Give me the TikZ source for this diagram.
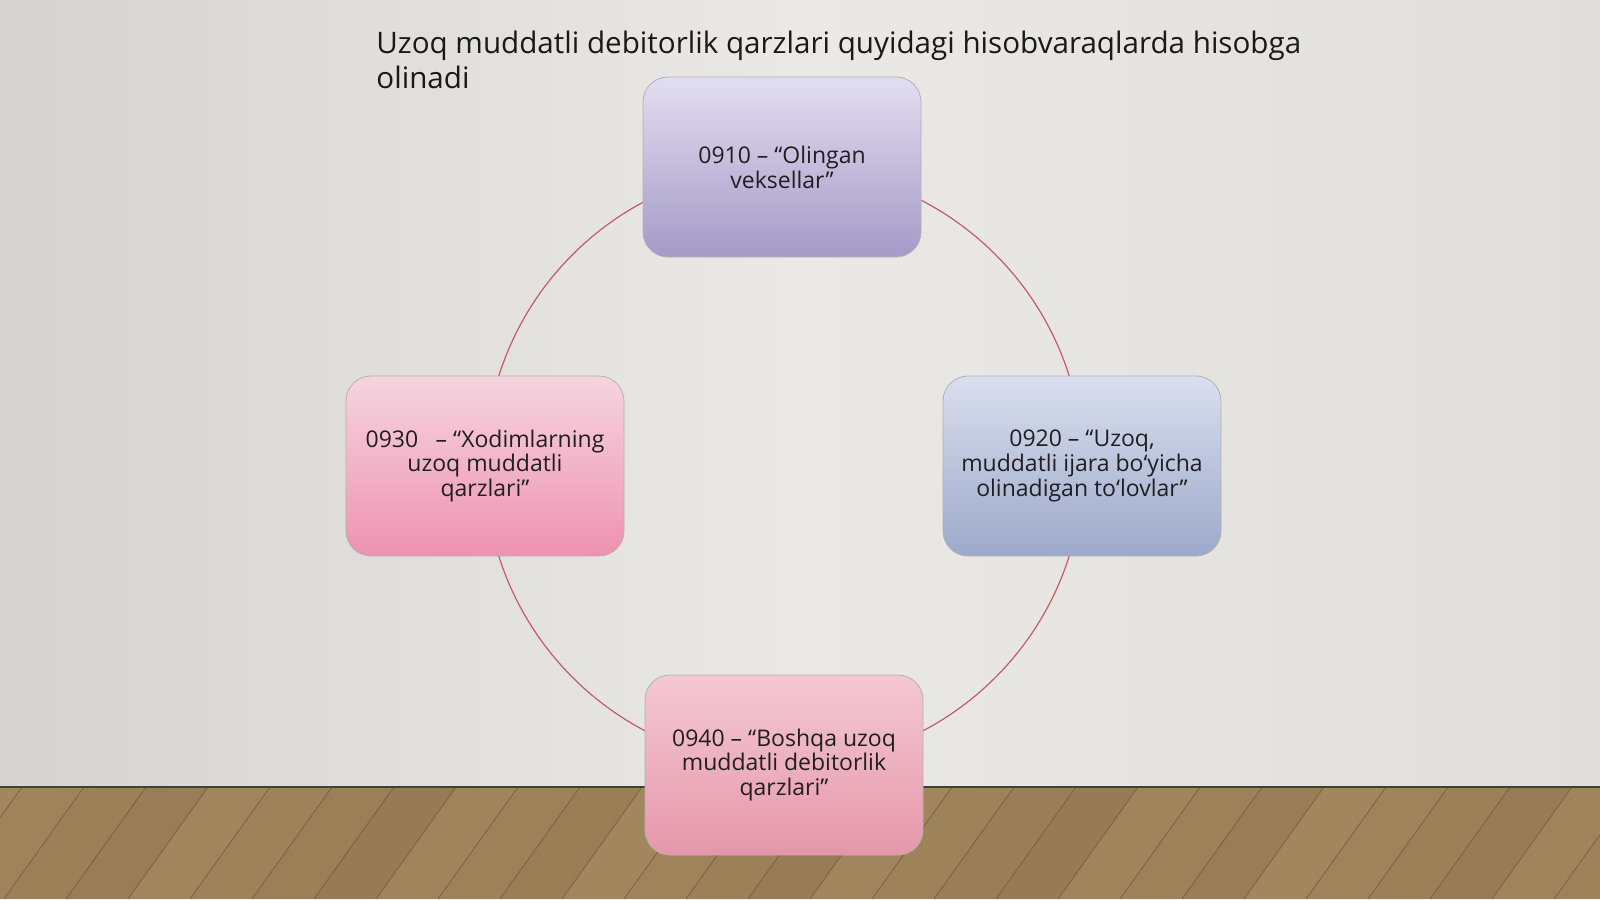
\documentclass[tikz,border=0pt]{standalone}
\usepackage{fontspec}
\setmainfont{Open Sans}
\usepackage{xcolor}
\usetikzlibrary{positioning,shapes}
\definecolor{wallL}{HTML}{D6D4D0}
\definecolor{wallM}{HTML}{EBE9E6}
\definecolor{wallR}{HTML}{E0DEDA}
\definecolor{floorA}{HTML}{A58A60}
\definecolor{floorB}{HTML}{7A5E3E}
\definecolor{ringred}{HTML}{C45A66}
\definecolor{lilacT}{HTML}{E2DEF0}
\definecolor{lilacB}{HTML}{A59AC8}
\definecolor{roseT}{HTML}{F6D4E0}
\definecolor{roseB}{HTML}{EE92B1}
\definecolor{steelT}{HTML}{D9DFEE}
\definecolor{steelB}{HTML}{9DA9CB}
\definecolor{blushT}{HTML}{F4C8D3}
\definecolor{blushB}{HTML}{E697AA}
\tikzset{
acct/.style={draw=gray!60, rounded corners=12.5pt, minimum width=139pt, minimum height=90pt,
  align=center, text=black!88, font=\fontsize{11.5}{12.4}\selectfont},
lilac/.style={top color=lilacT, bottom color=lilacB},
rose/.style={top color=roseT, bottom color=roseB},
steel/.style={top color=steelT, bottom color=steelB},
blush/.style={top color=blushT, bottom color=blushB}
}

\begin{document}
\begin{tikzpicture}[x=0.5pt, y=-0.5pt]
\useasboundingbox (0,0) rectangle (1600,899);
% wall and floor
\shade[left color=wallL, right color=wallR, middle color=wallM] (0,0) rectangle (1600,787);
\scope
\clip (0,787) rectangle (1600,899);
\fill[floorA] (0,787) rectangle (1600,899);
\foreach \i in {0,...,30} {
  \pgfmathsetmacro\t{mod(\i*37,29)+6}
  \fill[floorB!\t!floorA] (\i*62-120,899) -- (\i*62-58,899) -- (\i*62+22,787) -- (\i*62-40,787) -- cycle;
  \draw[floorB!80!black, opacity=0.6] (\i*62-120,899) -- (\i*62-40,787);
}
\endscope
\draw[black!75, line width=1.2pt] (0,787) -- (1600,787);
% title
\node[anchor=north west, align=left, text=black!90, font=\fontsize{14.8}{17.5}\selectfont, inner sep=0pt]
  (title) at (376,31) {Uzoq muddatli debitorlik qarzlari quyidagi hisobvaraqlarda hisobga\\olinadi};
% ring
\coordinate (ring) at (784,466);
\draw[ringred, line width=0.6pt] (ring) circle[radius=149.5pt];
% accounts
\node[acct, lilac] (n0910) at (782,167) {0910 – “Olingan\\veksellar”};
\node[acct, steel] (n0920) at (1082,466) {0920 – “Uzoq,\\muddatli ijara bo‘yicha\\olinadigan to‘lovlar”};
\node[acct, blush] (n0940) at (784,765) {0940 – “Boshqa uzoq\\muddatli debitorlik\\qarzlari”};
\node[acct, rose] (n0930) at (485,466) {0930\enspace\ – “Xodimlarning\\uzoq muddatli\\qarzlari”};
\end{tikzpicture}
\end{document}
